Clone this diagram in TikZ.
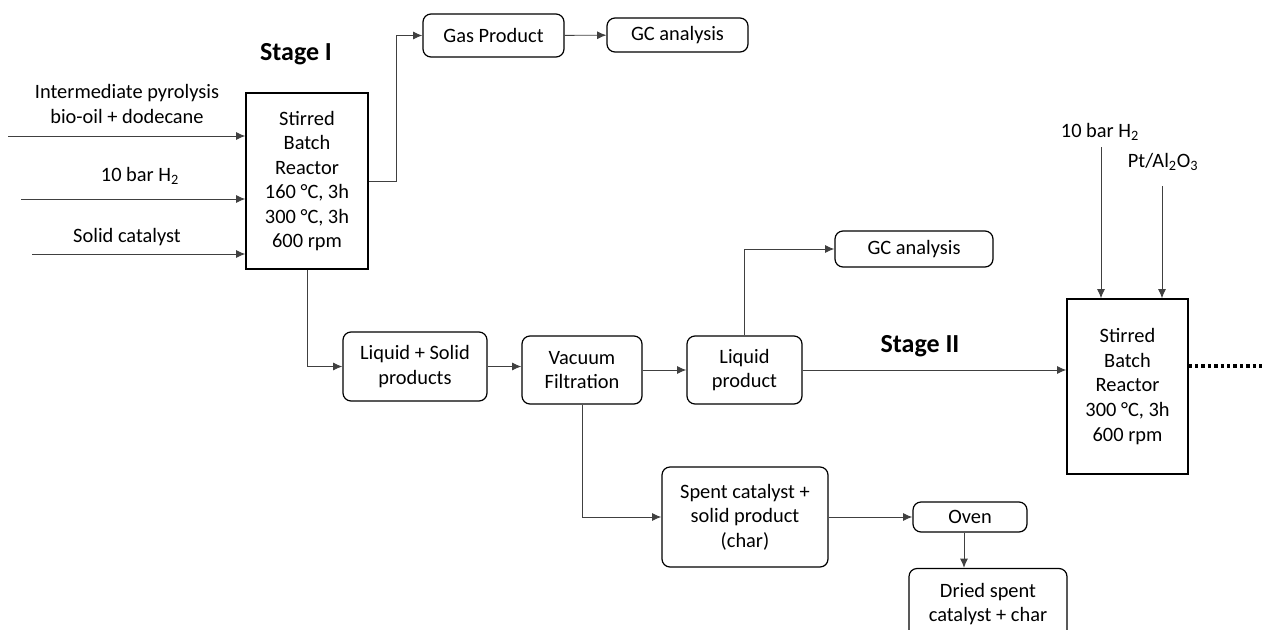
\documentclass[tikz,border=0pt]{standalone}
\usepackage{fontspec}
\setmainfont{Carlito}
\usetikzlibrary{arrows.meta}

\begin{document}
\begin{tikzpicture}[x=0.75pt,y=-0.75pt,
  every node/.style={font=\fontsize{15.3}{18.4}\selectfont, align=center, inner sep=0pt},
  box/.style={draw, line width=0.9pt, rounded corners=6pt},
  reactor/.style={draw, line width=0.9pt},
  flow/.style={draw=black!75, line width=0.7pt, -{Latex[length=7pt,width=6pt]}},
  stage/.style={font=\fontsize{19.5}{22}\selectfont\bfseries}]
\useasboundingbox (0,0) rectangle (1264,629);
\clip (0,0) rectangle (1264,629);
% stage I
\node[reactor, minimum width=91.5pt, minimum height=132pt] (r1) at (307,181)
  {Stirred\\Batch\\Reactor\\160 °C, 3h\\300 °C, 3h\\600 rpm};
\node[stage] (st1) at (296,54) {Stage I};
\node (lab1) at (127,104) {Intermediate pyrolysis\\bio-oil + dodecane};
\node (lab2) at (140,176) {10 bar H\textsubscript{2}};
\node (lab3) at (127,237) {Solid catalyst};
\coordinate (in1) at (8,136);
\coordinate (in2) at (21,199);
\coordinate (in3) at (32,254);
\draw[flow] (in1) -- (in1 -| r1.west);
\draw[flow] (in2) -- (in2 -| r1.west);
\draw[flow] (in3) -- (in3 -| r1.west);
\node[box, minimum width=105.75pt, minimum height=32.25pt] (gas) at (493.5,35.5) {Gas Product};
\node[box, minimum width=105.75pt, minimum height=25.5pt] (gc1) at (677.5,35) {GC analysis};
\draw[flow] (r1.east) -- ++(28,0) |- (gas.west);
\draw[flow] (gas) -- (gc1);
% separation
\node[box, minimum width=108pt, minimum height=51.75pt] (ls) at (415,366.5) {Liquid + Solid\\products};
\node[box, minimum width=90pt, minimum height=51pt] (vf) at (582,370) {Vacuum\\Filtration};
\node[box, minimum width=86.25pt, minimum height=51pt] (lp) at (744.5,370) {Liquid\\product};
\node[box, minimum width=118.5pt, minimum height=27pt] (gc2) at (914,249) {GC analysis};
\draw[flow] (r1.south) |- (ls.west);
\draw[flow] (ls.east) -- (ls.east -| vf.west);
\draw[flow] (vf) -- (lp);
\draw[flow] (lp.north) |- (gc2.west);
\node[box, minimum width=124.5pt, minimum height=75pt] (spent) at (745,517) {Spent catalyst +\\solid product\\(char)};
\node[box, minimum width=85.5pt, minimum height=22.5pt] (oven) at (970,517) {Oven};
\node[box, minimum width=118.5pt, minimum height=53.25pt] (dried) at (988,604) {Dried spent\\catalyst + char};
\draw[flow] (vf.south) |- (spent.west);
\draw[flow] (spent) -- (oven);
\draw[flow] ([xshift=-4.5pt]oven.south) -- ([xshift=-4.5pt]oven.south |- dried.north);
% stage II
\node[reactor, minimum width=90.75pt, minimum height=131.25pt] (r2) at (1127.5,386.5)
  {Stirred\\Batch\\Reactor\\300 °C, 3h\\600 rpm};
\node[stage] (st2) at (920,346) {Stage II};
\draw[flow] (lp.east) -- (lp.east -| r2.west);
\node (lab4) at (1100,132) {10 bar H\textsubscript{2}};
\node (lab5) at (1163,162) {Pt/Al\textsubscript{2}O\textsubscript{3}};
\coordinate (top1) at (1101,147);
\coordinate (top2) at (1162,186);
\draw[flow] (top1) -- (top1 |- r2.north);
\draw[flow] (top2) -- (top2 |- r2.north);
\coordinate (dotend) at (1272,366);
\draw[line width=2.6pt, dash pattern=on 2.6pt off 2.2pt, -{Latex[length=6pt,width=8pt]}] (dotend -| r2.east) -- (dotend);
\end{tikzpicture}
\end{document}
